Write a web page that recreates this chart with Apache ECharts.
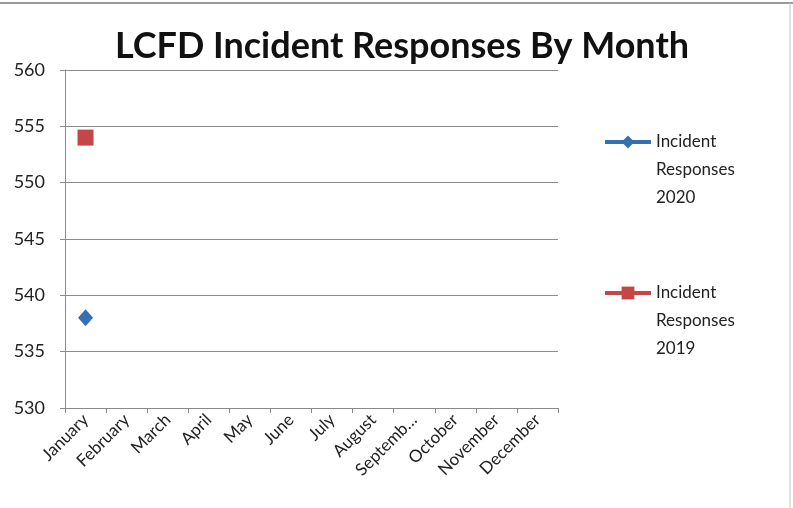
<!DOCTYPE html>
<html>
<head>
<meta charset="utf-8">
<script src="https://cdn.jsdelivr.net/npm/echarts@6/dist/echarts.min.js"></script>
<style>html,body{margin:0;padding:0;background:#fff;}#c{width:793px;height:508px;}</style>
</head>
<body>
<div id="c"></div>
<script>
var titleText = 'LCFD Incident Responses By Month';
var months = ['January','February','March','April','May','June','July','August','September','October','November','December'];
var series2020Name = 'Incident Responses 2020';
var series2019Name = 'Incident Responses 2019';
var values2020 = [538, null, null, null, null, null, null, null, null, null, null, null];
var values2019 = [554, null, null, null, null, null, null, null, null, null, null, null];
var yMin = 530, yMax = 560, yStep = 5;

var FONT = 'Lato, "Open Sans", sans-serif';
var chart = echarts.init(document.getElementById('c'), null, {renderer: 'canvas'});
var legendText = {fontFamily: FONT, fontSize: 17, color: '#222', lineHeight: 28};
function fmtLegend(n) { return '\n\n' + n.replace(/ /g, '\n'); }
chart.setOption({
  animation: false,
  backgroundColor: '#fff',
  title: {
    text: titleText, left: 397, top: 23, textAlign: 'center',
    textStyle: {fontFamily: FONT, fontWeight: 'bold', fontSize: 36, color: '#111'}
  },
  legend: [{
    data: [series2020Name], left: 598, top: 67, itemWidth: 46, itemHeight: 16,
    formatter: fmtLegend, textStyle: legendText, lineStyle: {width: 4}
  }, {
    data: [series2019Name], left: 598, top: 218, itemWidth: 46, itemHeight: 16,
    formatter: fmtLegend, textStyle: legendText, lineStyle: {width: 4}
  }],
  grid: {left: 65, right: 235, top: 70, bottom: 100},
  xAxis: {
    type: 'category', data: months, boundaryGap: true,
    axisLine: {lineStyle: {color: '#8a8a8a', width: 1}},
    axisTick: {show: true, length: 5, lineStyle: {color: '#8a8a8a'}},
    axisLabel: {
      rotate: 45, fontFamily: FONT, fontSize: 17, color: '#222', margin: 9, interval: 0,
      formatter: function (v) { return v.length > 8 ? v.slice(0, 7) + '\u2026' : v; }
    }
  },
  yAxis: {
    type: 'value', min: yMin, max: yMax, interval: yStep,
    axisLine: {show: true, lineStyle: {color: '#8a8a8a'}},
    axisTick: {show: true, length: 5, lineStyle: {color: '#8a8a8a'}},
    axisLabel: {fontFamily: FONT, fontSize: 18, color: '#222', margin: 20},
    splitLine: {lineStyle: {color: '#8c8c8c', width: 1}}
  },
  series: [{
    name: series2020Name, type: 'line', data: values2020,
    symbol: 'diamond', symbolSize: [15, 17], showAllSymbol: true,
    itemStyle: {color: '#3570b2'}, lineStyle: {color: '#3570b2', width: 4}
  }, {
    name: series2019Name, type: 'line', data: values2019,
    symbol: 'rect', symbolSize: 16, showAllSymbol: true,
    itemStyle: {color: '#c54646'}, lineStyle: {color: '#c54646', width: 4}
  }],
  graphic: [{
    type: 'line', shape: {x1: 0, y1: 3, x2: 793, y2: 3}, style: {stroke: '#9a9a9a', lineWidth: 2}, silent: true
  }, {
    type: 'line', shape: {x1: 790, y1: 3, x2: 790, y2: 508}, style: {stroke: '#c8c8c8', lineWidth: 1}, silent: true
  }]
});
</script>
</body>
</html>
